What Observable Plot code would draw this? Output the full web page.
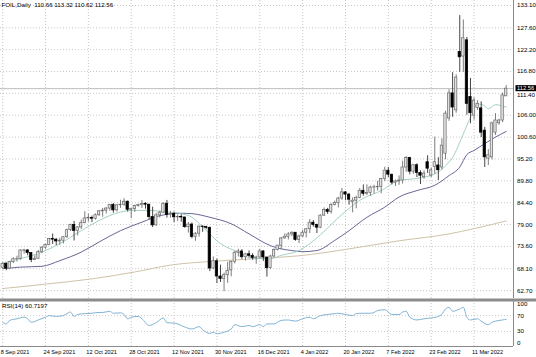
<!DOCTYPE html>
<html><head><meta charset="utf-8">
<script src="https://cdn.jsdelivr.net/npm/d3@7"></script>
<script src="https://cdn.jsdelivr.net/npm/@observablehq/plot@0.6"></script>
<style>
html,body{margin:0;padding:0;background:#fff;}
#chart{width:536px;height:357px;position:relative;overflow:hidden;background:#fff;}
#chart svg{display:block;}
</style></head><body><div id="chart"></div>
<script>
// ---- data (bar index 0 = 8 Sep 2021) ----
const opens = [68.35,69.30,68.14,69.72,70.45,70.46,72.55,72.61,71.97,70.29,70.56,72.23,73.30,73.98,75.45,75.29,74.83,75.03,75.88,77.62,78.93,77.43,78.30,79.35,80.52,80.64,80.44,81.31,82.28,82.44,82.96,83.87,82.50,83.76,83.90,84.65,82.66,82.81,83.57,83.80,84.05,83.91,80.86,78.81,81.27,81.93,84.15,81.34,81.59,80.79,80.88,80.76,78.36,79.01,75.94,76.75,78.50,78.39,78.20,68.15,69.95,66.18,65.57,66.50,67.70,69.80,72.05,72.36,70.94,71.67,71.29,70.73,70.87,72.38,70.86,68.23,71.12,72.76,73.79,75.57,75.98,76.56,76.99,75.21,76.08,76.99,77.85,79.46,78.90,78.23,81.22,82.64,82.12,83.82,84.30,85.43,86.96,86.40,84.60,84.90,85.60,87.35,86.61,86.82,88.15,88.20,88.26,90.27,92.31,91.32,89.36,89.66,89.88,93.10,95.46,92.07,93.66,91.76,90.70,94.40,91.10,93.20,93.60,93.10,96.50,105.20,111.40,107.20,121.60,120.50,124.50,110.50,105.90,107.80,107.70,102.20,95.30,95.60,101.70,104.00,104.70,110.66];
const highs = [69.61,69.56,69.94,70.80,71.20,72.80,72.90,72.82,72.10,71.30,72.60,73.60,74.20,75.60,76.67,75.50,75.60,76.00,77.90,79.10,79.78,78.50,80.11,82.18,81.60,81.10,81.62,82.50,83.00,83.20,83.90,84.20,84.00,85.00,85.40,84.80,83.00,83.80,84.00,84.90,84.40,84.00,83.30,81.80,82.30,84.40,84.97,82.20,82.10,81.40,81.50,80.80,79.50,79.40,77.00,78.60,78.70,78.60,78.40,71.00,70.50,69.00,67.00,69.70,70.00,72.40,72.90,72.80,71.90,72.50,71.80,71.20,72.90,72.50,71.00,71.40,73.00,73.90,75.80,76.70,77.00,77.20,77.00,76.40,77.60,78.00,80.24,80.00,79.10,81.40,83.10,83.00,84.10,84.80,85.74,87.91,87.10,86.70,85.60,86.00,87.90,88.80,88.80,88.50,88.70,89.70,90.40,93.17,93.10,91.40,90.00,91.00,94.66,95.82,95.60,93.80,94.00,92.30,92.30,96.00,93.00,100.60,95.50,100.20,107.00,112.30,116.50,116.00,130.60,129.50,125.20,115.10,110.30,109.60,109.30,103.00,97.50,104.30,106.40,105.00,111.50,113.32];
const lows = [68.06,67.60,68.05,69.40,69.75,70.20,71.70,71.30,69.60,70.10,70.40,71.80,72.90,73.80,74.10,73.80,73.90,74.20,75.60,77.30,74.96,76.20,77.80,79.20,79.60,79.50,80.10,81.00,80.80,81.60,82.30,81.80,82.10,83.00,83.50,82.10,80.50,82.00,83.30,83.00,82.80,80.20,78.25,78.60,80.60,81.70,80.60,80.60,79.50,79.80,79.60,78.10,76.90,75.50,74.90,75.90,77.10,77.80,67.40,67.90,64.43,64.70,62.43,64.50,66.10,69.30,71.00,70.40,70.00,70.80,70.20,69.20,70.60,69.90,66.04,68.00,70.80,72.50,72.80,75.40,75.20,76.00,74.90,74.30,75.80,75.70,76.80,78.40,76.80,78.00,81.00,81.50,81.60,83.60,83.10,85.00,84.90,83.80,81.90,82.90,85.40,86.00,86.20,86.00,86.60,87.30,86.60,89.60,90.60,88.80,88.40,88.70,89.00,91.90,91.30,91.40,90.60,88.90,90.20,91.60,90.60,91.40,89.90,92.50,95.00,104.50,105.50,106.50,116.60,116.60,106.00,103.90,104.80,107.20,100.50,93.10,93.60,95.00,101.00,103.50,104.20,110.62];
const closes = [69.30,68.14,69.72,70.45,70.46,72.61,72.61,71.97,70.29,70.56,72.23,73.30,73.98,75.45,75.29,74.83,75.03,75.88,77.62,78.93,77.43,78.30,79.35,80.52,80.64,80.44,81.31,82.28,82.44,82.96,83.87,82.50,83.76,83.90,84.65,82.66,82.81,83.57,83.80,84.05,83.91,80.86,78.81,81.27,81.93,84.15,81.34,81.59,80.79,80.88,80.76,78.36,79.01,75.94,76.75,78.50,78.39,78.20,68.15,69.95,66.18,65.57,66.50,67.60,69.80,72.05,72.36,70.94,71.67,71.29,70.73,70.87,72.38,70.86,68.23,71.12,72.76,73.79,75.57,75.98,76.56,76.99,75.21,76.08,76.99,77.85,79.46,78.90,78.23,81.22,82.64,82.12,83.82,84.30,85.43,86.96,86.40,85.14,84.90,85.60,87.35,86.61,86.82,88.15,88.20,88.26,90.27,92.31,91.32,89.36,89.66,89.88,93.10,95.46,92.07,93.66,91.76,91.07,91.60,92.80,92.40,94.40,92.40,98.50,106.40,111.40,107.90,115.30,120.30,125.00,108.80,106.50,109.60,108.80,101.70,95.60,96.10,104.00,104.70,104.70,110.90,112.56];

// moving averages read at sample bars
const maFastBar = [0,5,11,16,22,27,33,37,41,46,50,53,56,61,66,70,75,78,83,86,89,95,100,106,111,116,121,124,126,129,131,133,135,136,138,141];
const maFastVal = [69.5,70.6,72.2,74.3,77.5,80.0,82.1,82.5,82.5,82.1,81.7,80.8,78.4,74.3,72.2,70.6,70.6,71.4,72.6,74.3,76.5,81.5,85.0,87.4,89.9,90.4,91.5,93.5,95.6,101.4,105.5,108.8,108.3,107.6,108.6,108.0];
const maMidBar = [0,5,11,16,22,27,33,39,44,50,53,58,64,69,75,78,81,84,88,93,97,102,107,111,116,121,125,128,130,132,135,138,141];
const maMidVal = [68.1,68.5,68.7,70.1,72.2,74.7,77.5,79.6,81.2,81.8,81.7,80.8,79.2,76.7,73.8,73.0,72.6,72.3,72.6,75.1,77.5,80.8,83.3,85.8,87.4,88.7,91.1,93.2,96.3,97.3,99.0,100.6,102.0];
const maLongBar = [0,12,25,37,47,60,75,83,97,111,125,132,141];
const maLongVal = [63.2,64.3,65.6,67.3,69.0,70.0,70.8,71.3,73.0,75.0,76.7,78.0,79.9];

// RSI(14) read at sample bars
const rsiBar = [0,1,2,4,6,7,8,10,12,13,15,17,18,19,20,21,23,25,27,28,30,31,33,34,35,36,38,39,41,43,45,46,48,49,51,53,55,56,58,59,60,62,64,65,67,69,70,72,73,74,76,78,80,82,84,86,87,89,91,93,94,96,98,99,101,103,104,105,107,109,111,112,113,114,116,118,120,122,123,124,125,126,128,129,130,131,133,134,136,137,138,140,141];
const rsiVal = [53,49,58,62,66,62,53,59,66,70,68,70,75,79,68,73,75,76,78,78,81,76,77,73,62,66,68,62,45,52,64,52,51,49,41,36,42,34,25,28,24,28,36,47,42,45,42,47,42,49,49,58,59,56,62,66,62,70,73,75,76,73,70,75,76,76,78,83,85,73,73,79,81,66,59,62,64,68,73,87,91,81,87,91,66,59,62,56,47,53,56,59,60.7];

// axis labels
const priceTicks = [133.10,127.60,122.20,116.80,111.40,106.00,100.60,95.20,89.80,84.40,79.00,73.60,68.10,62.70];
const rsiTicks = [100,70,30,0];
const rsiLevels = [70,30];
const dateTickBars = [0,12,24,36,48,60,72,84,96,108,120,132];
const dateTickLabels = ["8 Sep 2021","24 Sep 2021","12 Oct 2021","28 Oct 2021","12 Nov 2021","30 Nov 2021","16 Dec 2021","4 Jan 2022","20 Jan 2022","7 Feb 2022","23 Feb 2022","11 Mar 2022"];
const titleText = "FOIL,Daily  110.66 113.32 110.62 112.56";
const rsiTitle = "RSI(14) 60.7197";
const lastClose = 112.56;

// ---- build tables ----
const candles = opens.map((o, i) => ({i, o, h: highs[i], l: lows[i], c: closes[i]}));
const bull = candles.filter(d => d.c >= d.o);
const bear = candles.filter(d => d.c < d.o);
const pairs = (bars, vals) => bars.map((b, k) => ({i: b, v: vals[k]}));
const maFast = pairs(maFastBar, maFastVal);
const maMid = pairs(maMidBar, maMidVal);
const maLong = pairs(maLongBar, maLongVal);
const rsi = pairs(rsiBar, rsiVal);

const X0 = -0.608, X1 = 143.05;
const HW = 0.33;
const FONT = "'Liberation Sans', Arial, sans-serif";
const gridStyle = {stroke: "#c8c8c8", strokeDasharray: "1,2", strokeWidth: 1};
// labels that sit under the current-price box get nudged down a little
const nearBox = d => Math.abs(d - lastClose) < 2;

const main = Plot.plot({
  width: 536, height: 298,
  marginLeft: 0, marginRight: 23, marginTop: 0, marginBottom: 0,
  x: {domain: [X0, X1], axis: null},
  y: {domain: [60.75, 134.33], axis: null},
  style: {fontFamily: FONT, background: "#fff", color: "#000"},
  marks: [
    Plot.ruleY(priceTicks, gridStyle),
    Plot.ruleX(dateTickBars, gridStyle),
    Plot.ruleY([lastClose], {stroke: "#bcbcbc", strokeWidth: 1}),
    Plot.line(maLong, {x: "i", y: "v", stroke: "#d0c2a8", strokeWidth: 1, curve: "monotone-x"}),
    Plot.line(maMid, {x: "i", y: "v", stroke: "#55558a", strokeWidth: 0.9, curve: "monotone-x"}),
    Plot.line(maFast, {x: "i", y: "v", stroke: "#98c9bd", strokeWidth: 0.9, curve: "monotone-x"}),
    Plot.ruleX(bull, {x: "i", y1: "l", y2: "h", stroke: "#6e6e6e", strokeWidth: 0.9}),
    Plot.ruleX(bear, {x: "i", y1: "l", y2: "h", stroke: "#303030", strokeWidth: 0.9}),
    Plot.rect(bull, {x1: d => d.i - HW, x2: d => d.i + HW, y1: "o", y2: "c", fill: "#e2e2e2", stroke: "#6a6a6a", strokeWidth: 0.7}),
    Plot.rect(bear, {x1: d => d.i - HW, x2: d => d.i + HW, y1: "o", y2: "c", fill: "#000", stroke: "#000", strokeWidth: 0.7}),
    Plot.ruleX([X1], {stroke: "#8a8a8a", strokeWidth: 1}),
    Plot.text(priceTicks.filter(d => !nearBox(d)), {x: X1, y: d => d, text: d => d.toFixed(2), dx: 3.5, textAnchor: "start", fontSize: 6.2, fill: "#000"}),
    Plot.text(priceTicks.filter(nearBox), {x: X1, y: d => d, text: d => d.toFixed(2), dx: 3.5, dy: 1.6, textAnchor: "start", fontSize: 6.2, fill: "#000"}),
    Plot.rect([lastClose], {x1: X1 + 0.7, x2: X1 + 8, y1: d => d - 0.75, y2: d => d + 0.75, fill: "#000"}),
    Plot.text([lastClose], {x: X1, y: d => d, text: d => d.toFixed(2), dx: 3.5, dy: -0.6, textAnchor: "start", fontSize: 5.8, fill: "#fff"}),
    Plot.text([titleText], {frameAnchor: "top-left", text: d => d, dx: 1, dy: 2.5, lineAnchor: "top", textAnchor: "start", fontSize: 6.2, fill: "#000"})
  ]
});

const YR0 = -8.4, YR1 = 108.4;
const lower = Plot.plot({
  width: 536, height: 59,
  marginLeft: 0, marginRight: 23, marginTop: 2, marginBottom: 11,
  x: {domain: [X0, X1], axis: null},
  y: {domain: [YR0, YR1], axis: null},
  style: {fontFamily: FONT, background: "#fff", color: "#000"},
  marks: [
    Plot.ruleX(dateTickBars, gridStyle),
    Plot.ruleY(rsiLevels, gridStyle),
    Plot.line(rsi, {x: "i", y: "v", stroke: "#80b3d4", strokeWidth: 1, curve: "monotone-x"}),
    Plot.ruleY([YR1], {x1: X0, x2: X1 + 8, stroke: "#8c8c8c", strokeWidth: 3, dy: -0.5}),
    Plot.ruleY([YR0], {x1: X0, x2: X1, stroke: "#8a8a8a", strokeWidth: 1}),
    Plot.ruleX([X1], {y1: YR0, y2: YR1, stroke: "#8a8a8a", strokeWidth: 1}),
    Plot.text(rsiTicks, {x: X1, y: d => d, text: d => String(d), dx: 3.5, textAnchor: "start", fontSize: 6.2, fill: "#000"}),
    Plot.text([rsiTitle], {frameAnchor: "top-left", text: d => d, dx: 1.5, dy: 3, lineAnchor: "top", textAnchor: "start", fontSize: 6.2, fill: "#000"}),
    Plot.text(dateTickBars, {x: d => d, frameAnchor: "bottom", text: (d, k) => dateTickLabels[k], dx: -2, dy: 5.5, lineAnchor: "middle", textAnchor: "start", fontSize: 5.6, fill: "#000"})
  ]
});

const root = document.getElementById("chart");
root.appendChild(main);
root.appendChild(lower);
</script>
</body></html>
